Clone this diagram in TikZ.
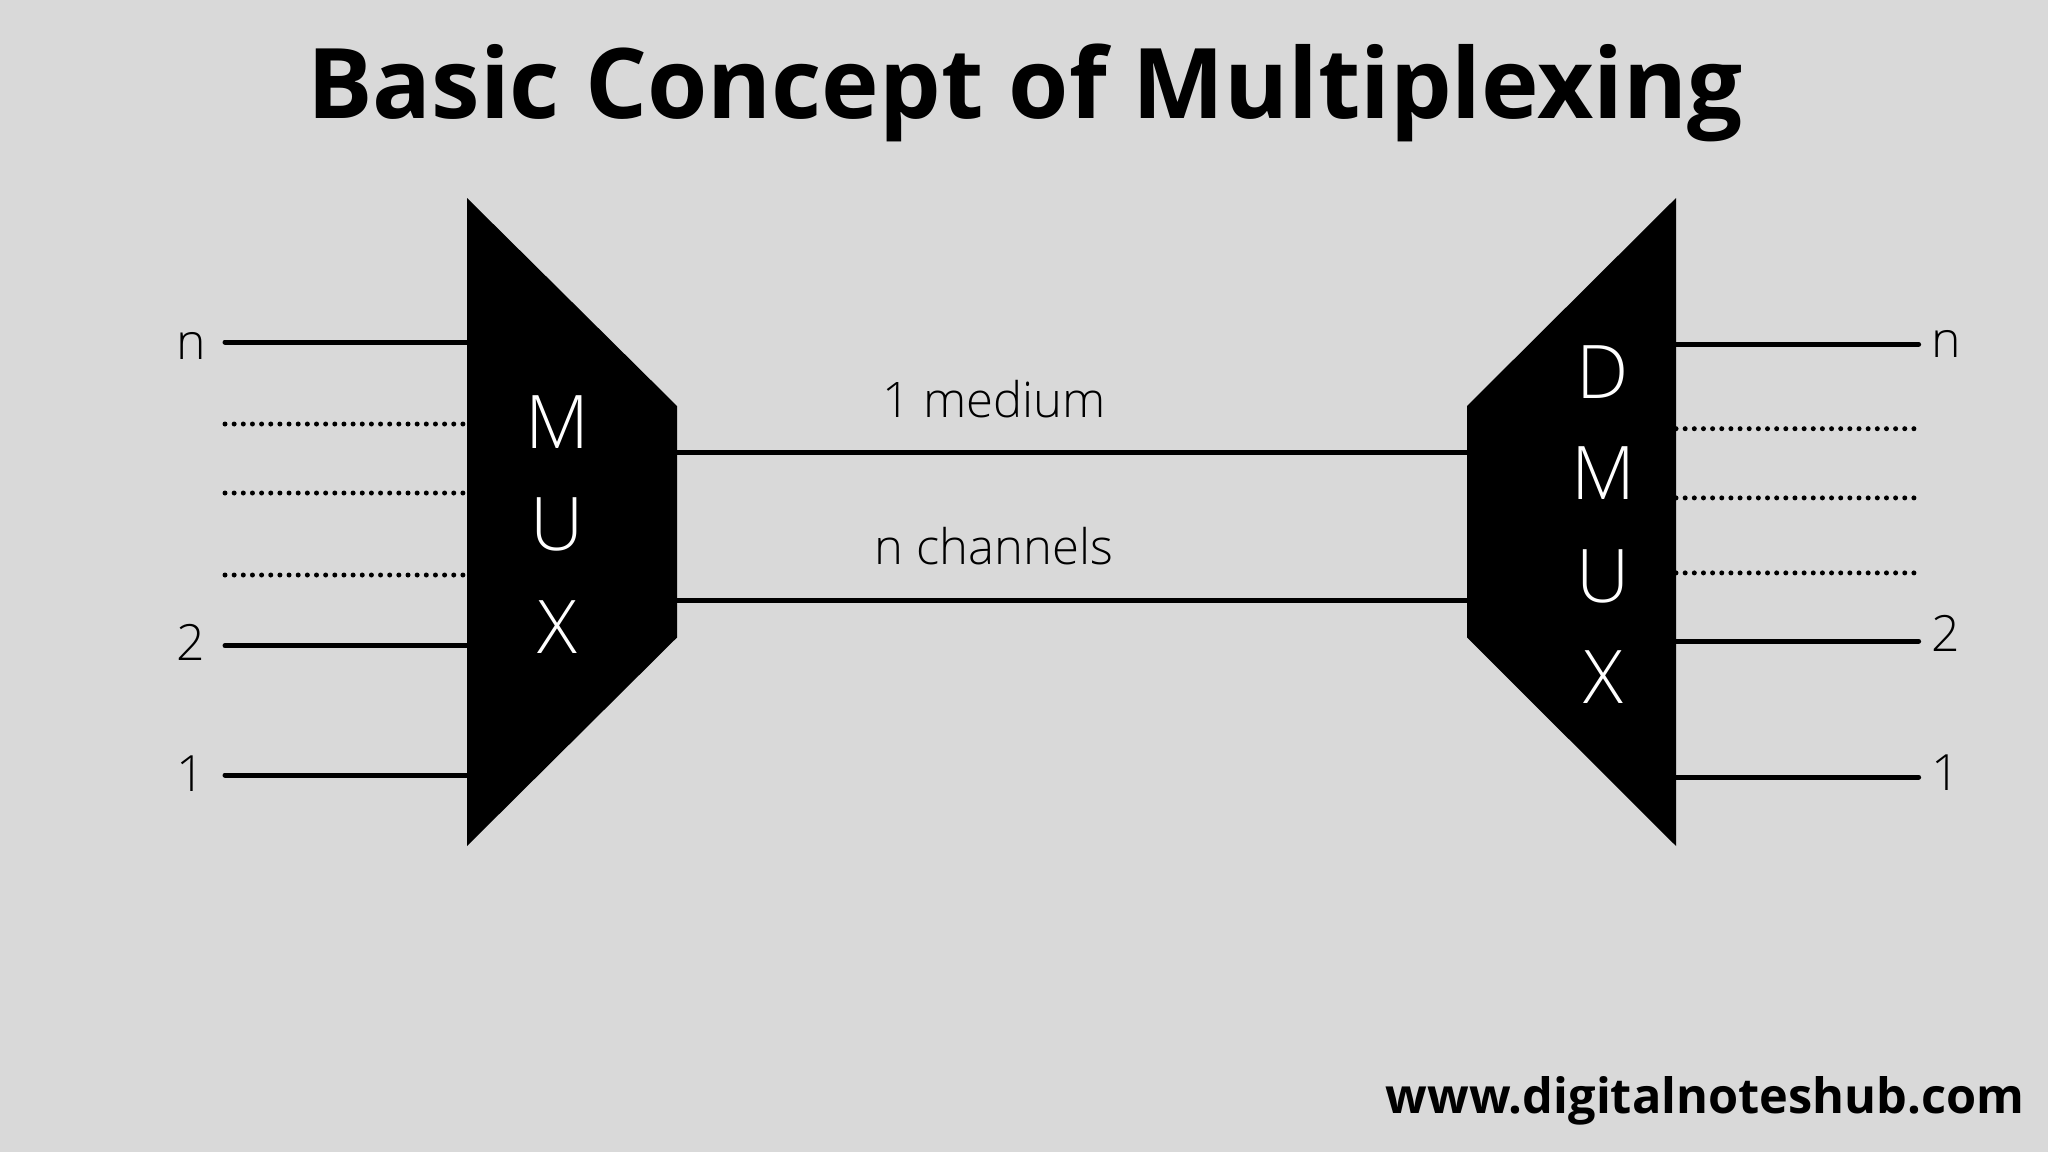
\documentclass[tikz,border=0pt]{standalone}
\usepackage{fontspec}
\setmainfont{Open Sans}
\newfontfamily\lightfont{Open Sans Light}
\definecolor{bg}{HTML}{D9D9D9}
\begin{document}
\begin{tikzpicture}[x=1pt,y=-1pt,
  wire/.style={line width=5pt, line cap=round},
  dotwire/.style={line width=5pt, line cap=round, dash pattern=on 0pt off 9.15pt},
  medwire/.style={line width=5pt},
  lbl/.style={font=\lightfont\fontsize{50}{60}\selectfont, anchor=base, inner sep=0pt},
  medlbl/.style={font=\lightfont\fontsize{49}{58}\selectfont, anchor=base, inner sep=0pt},
  boxlbl/.style={font=\lightfont\fontsize{74}{80}\selectfont, text=white, anchor=base, inner sep=0pt}]
\fill[bg] (0,0) rectangle (2048,1152);
\useasboundingbox (0,0) rectangle (2048,1152);

% title and footer
\node[font=\bfseries\fontsize{97.5}{104}\selectfont, anchor=base, inner sep=0pt] (title) at (1025,118) {Basic Concept of Multiplexing};
\node[font=\bfseries\fontsize{48.7}{58}\selectfont, anchor=base east, inner sep=0pt] (web) at (2024.5,1113) {www.digitalnoteshub.com};

% MUX and DMUX blocks
\coordinate (muxtl) at (467,198);
\coordinate (muxtr) at (677,406);
\coordinate (muxbr) at (677,637.5);
\coordinate (muxbl) at (467,846);
\fill (muxtl) -- (muxtr) -- (muxbr) -- (muxbl) -- cycle;
\coordinate (dmxtr) at (1676,198);
\coordinate (dmxtl) at (1467,406);
\coordinate (dmxbl) at (1467,637.5);
\coordinate (dmxbr) at (1676,846);
\fill (dmxtr) -- (dmxtl) -- (dmxbl) -- (dmxbr) -- cycle;

\node[boxlbl] (mM) at (557,448) {M};
\node[boxlbl] (mU) at (557,550) {U};
\node[boxlbl] (mX) at (557,653) {X};
\node[boxlbl] (dD) at (1603,398) {D};
\node[boxlbl] (dM) at (1603,499) {M};
\node[boxlbl] (dU) at (1603,602) {U};
\node[boxlbl] (dX) at (1603,703) {X};

% left inputs
\foreach \nm/\yy in {in/342, ia/424, ib/493, ic/575, i2/645.7, i1/775} {
  \coordinate (\nm s) at (225,\yy);
  \coordinate (\nm e) at (467,\yy);
}
\draw[wire] (ins) -- (ine);
\draw[dotwire] (ias) -- (iae);
\draw[dotwire] (ibs) -- (ibe);
\draw[dotwire] (ics) -- (ice);
\draw[wire] (i2s) -- (i2e);
\draw[wire] (i1s) -- (i1e);
\node[lbl] (ln) at (191,359) {n};
\node[lbl] (l2) at (191,660.7) {2};
\node[lbl] (l1) at (191,791) {1};

% right outputs
\foreach \nm/\yy in {on/344.3, oa/428.7, ob/497.9, oc/572.9, o2/641, o1/777} {
  \coordinate (\nm s) at (1676,\yy);
  \coordinate (\nm e) at (1918.6,\yy);
}
\draw[wire] (ons) -- (one);
\draw[dotwire] (oas) -- (oae);
\draw[dotwire] (obs) -- (obe);
\draw[dotwire] (ocs) -- (oce);
\draw[wire] (o2s) -- (o2e);
\draw[wire] (o1s) -- (o1e);
\node[lbl] (rn) at (1946,357.7) {n};
\node[lbl] (r2) at (1946,651) {2};
\node[lbl] (r1) at (1946,790.7) {1};

% medium lines
\coordinate (m1s) at (677,452);
\coordinate (m1e) at (1467,452);
\coordinate (m2s) at (677,600);
\coordinate (m2e) at (1467,600);
\draw[medwire] (m1s) -- (m1e);
\draw[medwire] (m2s) -- (m2e);
\node[medlbl] (med) at (994,417) {1 medium};
\node[medlbl] (chan) at (994,564.5) {n channels};
\end{tikzpicture}
\end{document}
